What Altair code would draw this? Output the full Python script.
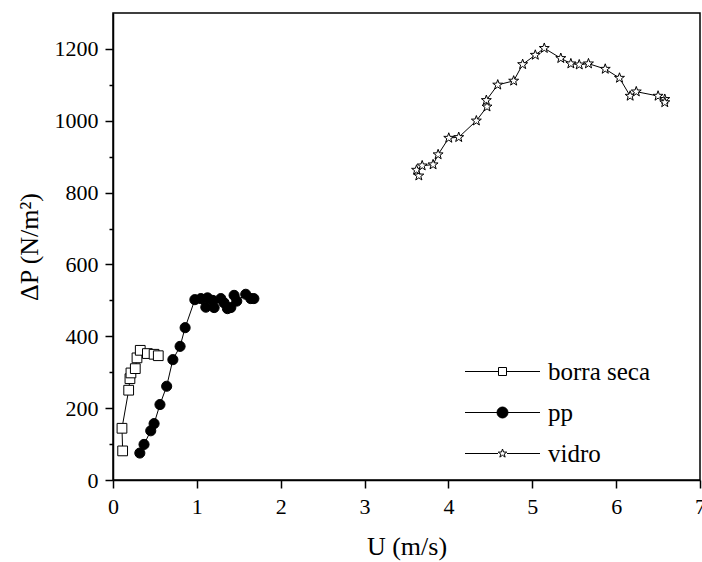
import altair as alt
import pandas as pd

# ---- data ----
series_names = ["borra seca", "pp", "vidro"]

borra_U = [0.115, 0.107, 0.187, 0.202, 0.214, 0.266, 0.286, 0.325, 0.41, 0.49, 0.54]
borra_P = [81, 144, 250, 282, 298, 310, 340, 361, 352, 350, 346]

pp_U = [0.32, 0.37, 0.45, 0.49, 0.56, 0.64, 0.714, 0.80, 0.86, 0.976, 1.048, 1.107,
        1.127, 1.19, 1.206, 1.286, 1.325, 1.365, 1.405, 1.444, 1.476, 1.583, 1.643, 1.68]
pp_P = [75, 99, 137, 157, 210, 261, 335, 372, 424, 502, 505, 481,
        507, 500, 480, 505, 493, 477, 480, 514, 498, 517, 505, 505]

vid_U = [3.647, 3.62, 3.687, 3.817, 3.877, 4.004, 4.123, 4.333, 4.46, 4.452, 4.588,
         4.778, 4.885, 5.036, 5.143, 5.34, 5.46, 5.56, 5.67, 5.87, 6.04, 6.167,
         6.24, 6.5, 6.58, 6.58]
vid_P = [847, 863, 875, 878, 906, 952, 954, 1000, 1039, 1057, 1100,
         1111, 1157, 1183, 1202, 1174, 1159, 1156, 1159, 1144, 1119, 1069,
         1081, 1069, 1060, 1051]

x_ticks = [i * 0.5 for i in range(15)]
y_ticks = [i * 100 for i in range(13)]

rows = []
for name, us, ps in zip(series_names, [borra_U, pp_U, vid_U], [borra_P, pp_P, vid_P]):
    for i, (u, p) in enumerate(zip(us, ps)):
        rows.append({"serie": name, "U": u, "P": p, "idx": i})
df = pd.DataFrame(rows)

FONT = "Liberation Serif"

STAR = ("M0,-1L0.235,-0.324L0.951,-0.309L0.38,0.124L0.588,0.809L0,0.4L-0.588,0.809"
        "L-0.38,0.124L-0.951,-0.309L-0.235,-0.324Z")
STAR_S = ("M0,-0.9L0.212,-0.292L0.856,-0.278L0.342,0.112L0.529,0.728L0,0.36L-0.529,0.728"
          "L-0.342,0.112L-0.856,-0.278L-0.212,-0.292Z")
LEG_SQ = "M-7.5,0L-0.8,0M0.8,0L7.5,0M-0.8,-0.8L0.8,-0.8L0.8,0.8L-0.8,0.8Z"
LEG_CI = "M-7.5,0L-1.1,0M1.1,0L7.5,0M1.1,0A1.1,1.1,0,1,1,-1.1,0A1.1,1.1,0,1,1,1.1,0Z"
LEG_ST = "M-7.5,0L-0.9,0M0.9,0L7.5,0" + STAR_S

legend_paths = [LEG_SQ, LEG_CI, LEG_ST]
fill_colors = ["white", "black", "white"]

x_enc = alt.X(
    "U:Q",
    scale=alt.Scale(domain=[0, 7], nice=False, zero=False),
    axis=alt.Axis(
        title="U (m/s)",
        values=x_ticks,
        format="d",
        labelExpr="datum.value % 1 === 0 ? datum.label : ''",
        tickSize={"condition": {"test": "datum.value % 1 !== 0", "value": 4}, "value": 8},
        grid=False,
        labelFlush=False,
        labelOverlap=False,
        labelPadding=8,
        labelFont=FONT, labelFontSize=22, labelColor="black",
        titleFont=FONT, titleFontSize=26, titleFontWeight="normal", titleColor="black",
        titleBaseline="alphabetic", titleY=74,
        domainColor="black", domainWidth=1.5, tickColor="black", tickWidth=1.5,
    ),
)
y_enc = alt.Y(
    "P:Q",
    scale=alt.Scale(domain=[0, 1300], nice=False, zero=False),
    axis=alt.Axis(
        title="ΔP (N/m²)",
        values=y_ticks,
        format="d",
        labelExpr="datum.value % 200 === 0 ? datum.label : ''",
        tickSize={"condition": {"test": "datum.value % 200 !== 0", "value": 4}, "value": 8},
        grid=False,
        labelOverlap=False,
        labelPadding=7,
        labelFont=FONT, labelFontSize=22, labelColor="black",
        titleFont=FONT, titleFontSize=26, titleFontWeight="normal", titleColor="black",
        titleBaseline="alphabetic", titleX=-76, titleAngle=270,
        domainColor="black", domainWidth=1.5, tickColor="black", tickWidth=1.5,
    ),
)

base = alt.Chart(df)

lines = base.mark_line(color="black", strokeWidth=1).encode(
    x=x_enc, y=y_enc, detail="serie:N", order="idx:Q"
)

points = base.mark_point(filled=True, stroke="black", strokeWidth=1, opacity=1).encode(
    x=x_enc, y=y_enc,
    shape=alt.Shape("serie:N", scale=alt.Scale(domain=series_names,
                                               range=["square", "circle", STAR]),
                    legend=None),
    fill=alt.Fill("serie:N", scale=alt.Scale(domain=series_names,
                                             range=fill_colors),
                  legend=None),
    size=alt.Size("serie:O", scale=alt.Scale(domain=series_names,
                                             range=[95, 110, 135]),
                  legend=None),
)


def leg(i):
    return alt.Legend(title=None, orient="none", legendX=377, legendY=346 + 41 * i,
                      symbolType=legend_paths[i],
                      symbolSize=100, labelOffset=33,
                      padding=0, labelFont=FONT, labelFontSize=25,
                      labelColor="black", labelLimit=300,
                      symbolStrokeWidth=1, symbolOpacity=1)


legend_layers = []
for i, name in enumerate(series_names):
    legend_layers.append(
        base.transform_filter(alt.datum.serie == name)
        .mark_point(filled=True, strokeWidth=1, opacity=0)
        .encode(
            x=x_enc, y=y_enc,
            fill=alt.Fill("serie:N",
                          scale=alt.Scale(domain=[name], range=[fill_colors[i]]),
                          legend=leg(i)),
            stroke=alt.Stroke("serie:N",
                              scale=alt.Scale(domain=[name], range=["black"]),
                              legend=leg(i)),
        )
    )

chart = (
    alt.layer(lines, points, *legend_layers)
    .resolve_scale(shape="independent", fill="independent", size="independent",
                   stroke="independent")
    .properties(
        width=587, height=467,
        autosize=alt.AutoSizeParams(type="none"),
        padding={"left": 113, "top": 13, "right": 2, "bottom": 82},
        background="white",
    )
    .configure_view(stroke="black", strokeWidth=1.5)
)

chart.save("out.html", embed_options={"renderer": "svg", "actions": False})
